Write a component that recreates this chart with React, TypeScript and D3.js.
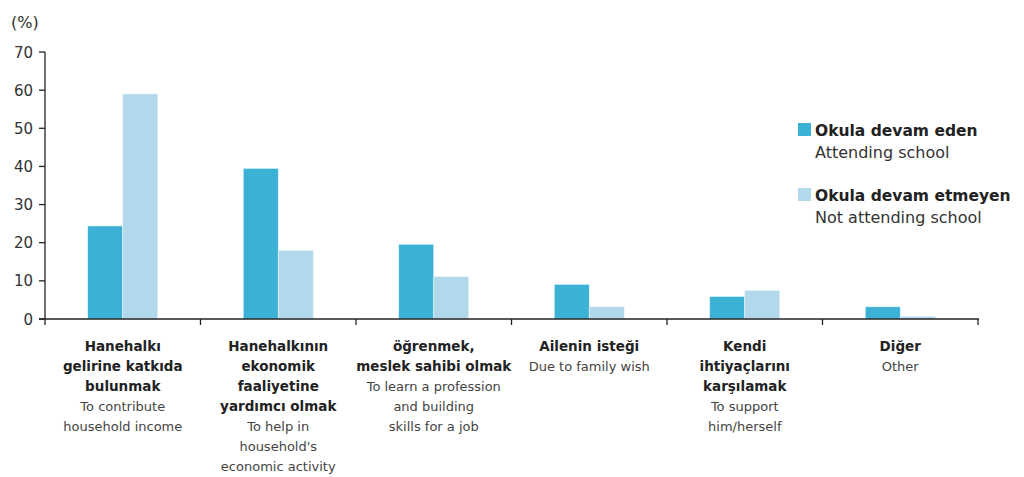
import React, { useEffect, useRef } from "react";
import * as d3 from "d3";

const categories = ["c1", "c2", "c3", "c4", "c5", "c6"];
const boldLabels = [
  ["Hanehalkı", "gelirine katkıda", "bulunmak"],
  ["Hanehalkının", "ekonomik", "faaliyetine", "yardımcı olmak"],
  ["öğrenmek,", "meslek sahibi olmak"],
  ["Ailenin isteği"],
  ["Kendi", "ihtiyaçlarını", "karşılamak"],
  ["Diğer"],
];
const englishLabels = [
  ["To contribute", "household income"],
  ["To help in", "household's", "economic activity"],
  ["To learn a profession", "and building", "skills for a job"],
  ["Due to family wish"],
  ["To support", "him/herself"],
  ["Other"],
];
const attending = [24.4, 39.5, 19.6, 9.1, 5.9, 3.2];
const notAttending = [59.0, 18.0, 11.1, 3.2, 7.5, 0.7];
const seriesNames = ["Okula devam eden", "Okula devam etmeyen"];
const seriesEnglish = ["Attending school", "Not attending school"];
const colors = ["#3cb1d6", "#b2d9eb"];
const yTicks = [0, 10, 20, 30, 40, 50, 60, 70];

export default function App() {
  const ref = useRef<SVGSVGElement | null>(null);

  useEffect(() => {
    document.body.style.margin = "0";
    const svg = d3.select(ref.current);
    svg.selectAll("*").remove();
    const font = "'DejaVu Sans', Verdana, sans-serif";
    const ink = "#222";

    const y = d3.scaleLinear().domain([0, 70]).range([319, 52]);
    const x = d3.scaleBand().domain(categories).range([45, 978]).padding(0);
    const bw = x.bandwidth();
    const xs = d3.scaleBand().domain(["a", "b"]).range([0, bw]).paddingInner(0).paddingOuter(1.22);

    // bars
    const rows = categories.map((c, i) => ({ c, vals: [attending[i], notAttending[i]] }));
    const g = svg.append("g");
    rows.forEach(r => {
      r.vals.forEach((v, j) => {
        const key = j === 0 ? "a" : "b";
        g.append("rect")
          .attr("x", (x(r.c) as number) + (xs(key) as number))
          .attr("y", y(v))
          .attr("width", xs.bandwidth())
          .attr("height", y(0) - y(v))
          .attr("fill", colors[j])
          .attr("stroke", "#e8f5fa")
          .attr("stroke-width", 0.6);
      });
    });

    // y axis
    svg.append("line").attr("x1", 45).attr("x2", 45).attr("y1", y(70)).attr("y2", y(0))
      .attr("stroke", ink).attr("stroke-width", 1.3);
    yTicks.forEach(t => {
      svg.append("line").attr("x1", 39).attr("x2", 45).attr("y1", y(t)).attr("y2", y(t))
        .attr("stroke", ink).attr("stroke-width", 1.3);
      svg.append("text").attr("x", 33).attr("y", y(t) + 5.5).attr("text-anchor", "end")
        .attr("font-family", font).attr("font-size", 15).attr("fill", "#333").text(t);
    });
    svg.append("text").attr("x", 11).attr("y", 28).attr("font-family", font)
      .attr("font-size", 16).attr("fill", "#333").text("(%)");

    // x axis
    svg.append("line").attr("x1", 39).attr("x2", 979).attr("y1", y(0)).attr("y2", y(0))
      .attr("stroke", ink).attr("stroke-width", 1.3);
    const bounds = categories.map(c => x(c) as number).concat([x.range()[1]]);
    bounds.forEach(b => {
      svg.append("line").attr("x1", b).attr("x2", b).attr("y1", y(0)).attr("y2", y(0) + 6)
        .attr("stroke", ink).attr("stroke-width", 1.3);
    });

    // category labels
    categories.forEach((c, i) => {
      const cx = (x(c) as number) + bw / 2;
      const lines = boldLabels[i].map(t => ({ t, b: true })).concat(englishLabels[i].map(t => ({ t, b: false })));
      lines.forEach((l, k) => {
        svg.append("text").attr("x", cx).attr("y", 351 + k * 20).attr("text-anchor", "middle")
          .attr("font-family", font).attr("font-size", l.b ? 13.5 : 13)
          .attr("font-weight", l.b ? "bold" : "normal")
          .attr("fill", l.b ? "#222" : "#444").text(l.t);
      });
    });

    // legend
    seriesNames.forEach((n, j) => {
      const ly = 123 + j * 65;
      svg.append("rect").attr("x", 798).attr("y", ly).attr("width", 13).attr("height", 13).attr("fill", colors[j]);
      svg.append("text").attr("x", 815).attr("y", ly + 13).attr("font-family", font)
        .attr("font-size", 15.5).attr("font-weight", "bold").attr("fill", "#222").text(n);
      svg.append("text").attr("x", 815).attr("y", ly + 35).attr("font-family", font)
        .attr("font-size", 16).attr("fill", "#333").text(seriesEnglish[j]);
    });
  }, []);

  return <svg ref={ref} width={1024} height={477} style={{ display: "block", background: "#fff" }} />;
}
